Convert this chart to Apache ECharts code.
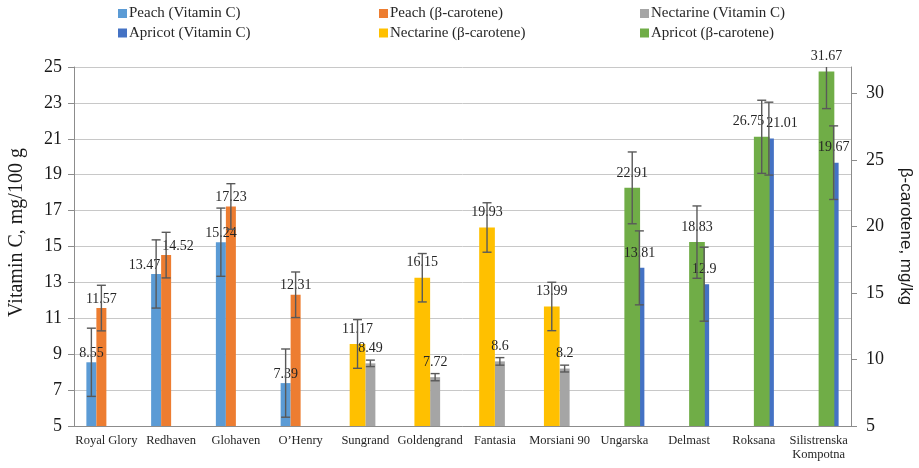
<!DOCTYPE html>
<html><head><meta charset="utf-8">
<script src="https://cdn.jsdelivr.net/npm/echarts@6/dist/echarts.min.js"></script>
<style>html,body{margin:0;padding:0;background:#fff}#c{width:919px;height:468px}</style>
</head><body><div id="c"></div>
<script>
const categories = ['Royal Glory','Redhaven','Glohaven','O\u2019Henry','Sungrand','Goldengrand','Fantasia','Morsiani 90','Ungarska','Delmast','Roksana','Silistrenska\nKompotna'];

const peachVitC        = [8.55, 13.47, 15.24, 7.39, null, null, null, null, null, null, null, null];
const peachVitCErr     = [1.9, 1.9, 1.9, 1.9, null, null, null, null, null, null, null, null];
const peachBeta        = [11.57, 14.52, 17.23, 12.31, null, null, null, null, null, null, null, null];
const peachBetaErr     = [1.27, 1.27, 1.27, 1.27, null, null, null, null, null, null, null, null];
const nectarineVitC    = [null, null, null, null, 8.49, 7.72, 8.6, 8.2, null, null, null, null];
const nectarineVitCErr = [null, null, null, null, 0.18, 0.2, 0.21, 0.19, null, null, null, null];
const apricotVitC      = [null, null, null, null, null, null, null, null, 13.81, 12.9, 21.01, 19.67];
const apricotVitCErr   = [null, null, null, null, null, null, null, null, 2.06, 2.06, 2.03, 2.05];
const nectarineBeta    = [null, null, null, null, 11.17, 16.15, 19.93, 13.99, null, null, null, null];
const nectarineBetaErr = [null, null, null, null, 1.83, 1.82, 1.86, 1.82, null, null, null, null];
const apricotBeta      = [null, null, null, null, null, null, null, null, 22.91, 18.83, 26.75, 31.67];
const apricotBetaErr   = [null, null, null, null, null, null, null, null, 2.7, 2.72, 2.75, 2.8];

const leftTicks  = [5, 7, 9, 11, 13, 15, 17, 19, 21, 23, 25];
const rightTicks = [5, 10, 15, 20, 25, 30];

const FONT = 'Liberation Serif';
const LABEL_SIZE = 14;
const W1 = 10, W2 = 15.7;
const defs = [
  {name:'Peach (Vitamin C)',      data:peachVitC,     err:peachVitCErr,     color:'#5B9BD5', y:0, g:0, slot:0, dist:2},
  {name:'Peach (\u03B2-carotene)', data:peachBeta,     err:peachBetaErr,     color:'#ED7D31', y:0, g:0, slot:1, dist:2},
  {name:'Nectarine (Vitamin C)',  data:nectarineVitC, err:nectarineVitCErr, color:'#A5A5A5', y:0, g:0, slot:2, dist:8},
  {name:'Apricot (Vitamin C)',    data:apricotVitC,   err:apricotVitCErr,   color:'#4472C4', y:0, g:0, slot:3, dist:8},
  {name:'Nectarine (\u03B2-carotene)', data:nectarineBeta, err:nectarineBetaErr, color:'#FFC000', y:1, g:1, slot:0, dist:8},
  {name:'Apricot (\u03B2-carotene)',   data:apricotBeta,   err:apricotBetaErr,   color:'#70AD47', y:1, g:1, slot:1, dist:8}
];
defs.forEach(d => {
  const W = d.g === 0 ? W1 : W2;
  const n = d.g === 0 ? 4 : 2;
  d.off = (d.slot - (n - 1) / 2) * W;
  d.W = W;
});

const mctx = document.createElement('canvas').getContext('2d');
mctx.font = LABEL_SIZE + 'px "' + FONT + '"';
let chart = null;

// shift labels of the two bars in a category apart when they collide
function labelShift(di, i) {
  if (!chart) return 0;
  try {
    const ks = [];
    defs.forEach((d, k) => { if (d.data[i] != null) ks.push(k); });
    if (ks.length !== 2) return 0;
    const pts = ks.map(k => {
      const d = defs[k];
      const p = chart.convertToPixel({xAxisIndex:d.g, yAxisIndex:d.y}, [i, d.data[i]]);
      return {k:k, x:p[0] + d.off, y:p[1] - d.dist, w:mctx.measureText(String(d.data[i])).width};
    });
    pts.sort((a, b) => a.x - b.x);
    if (Math.abs(pts[0].y - pts[1].y) >= 19.1) return 0;
    const need = (pts[0].w + pts[1].w) / 2 + 2 - (pts[1].x - pts[0].x);
    if (need <= 0) return 0;
    return pts[0].k === di ? -need / 2 : need / 2;
  } catch (e) { return 0; }
}

const series = [];
defs.forEach((d, di) => {
  series.push({
    type:'bar', name:d.name, xAxisIndex:d.g, yAxisIndex:d.y, data:d.data,
    barWidth:d.W, barGap:'0%', z:2,
    itemStyle:{color:d.color},
    label:{show:true, position:'top', distance:d.dist, fontFamily:FONT, fontSize:LABEL_SIZE, color:'#262626'},
    labelLayout:(p) => ({dx: labelShift(di, p.dataIndex)})
  });
  const ed = [];
  d.data.forEach((v, i) => { if (v != null) ed.push([i, v, d.err[i]]); });
  const off = d.off;
  series.push({
    type:'custom', xAxisIndex:d.g, yAxisIndex:d.y, z:3, silent:true, clip:true,
    encode:{x:0, y:1}, data:ed,
    renderItem:(params, api) => {
      const i = api.value(0), v = api.value(1), e = api.value(2);
      const t = api.coord([i, v + e]), b = api.coord([i, v - e]);
      const x = t[0] + off;
      const st = {stroke:'#595959', lineWidth:1.4};
      return {type:'group', children:[
        {type:'line', shape:{x1:x, y1:t[1], x2:x, y2:b[1]}, style:st},
        {type:'line', shape:{x1:x-4.5, y1:t[1], x2:x+4.5, y2:t[1]}, style:st},
        {type:'line', shape:{x1:x-4.5, y1:b[1], x2:x+4.5, y2:b[1]}, style:st}
      ]};
    }
  });
});

const legendBase = {orient:'vertical', top:5.5, padding:0, itemWidth:9, itemHeight:9, itemGap:3.5, icon:'rect',
  textStyle:{fontFamily:FONT, fontSize:15, color:'#262626', lineHeight:16, padding:[0,0,0,-3]}};
chart = echarts.init(document.getElementById('c'), null, {renderer:'canvas'});
const option = {
  animation:false,
  backgroundColor:'#fff',
  legend:[
    Object.assign({}, legendBase, {left:118, data:[defs[0].name, defs[3].name]}),
    Object.assign({}, legendBase, {left:379, data:[defs[1].name, defs[4].name]}),
    Object.assign({}, legendBase, {left:640, data:[defs[2].name, defs[5].name]})
  ],
  grid:{left:74, right:68, top:67, bottom:42, containLabel:false, outerBoundsMode:'none'},
  xAxis:[
    {type:'category', data:categories, axisTick:{show:false},
     axisLine:{lineStyle:{color:'#8c8c8c'}},
     axisLabel:{interval:0, fontFamily:FONT, fontSize:12.5, color:'#262626', margin:8, lineHeight:14}},
    {type:'category', data:categories, show:false}
  ],
  yAxis:[
    {type:'value', min:5, max:25, position:'left',
     name:'Vitamin C, mg/100 g', nameLocation:'middle', nameGap:47,
     nameTextStyle:{fontFamily:FONT, fontSize:20, color:'#1a1a1a', padding:[0,0,0,28]},
     axisLine:{show:true, lineStyle:{color:'#8c8c8c'}},
     axisTick:{show:true, length:6, customValues:leftTicks, lineStyle:{color:'#8c8c8c'}},
     axisLabel:{customValues:leftTicks, fontFamily:FONT, fontSize:18, color:'#1a1a1a', margin:12},
     splitLine:{show:true, lineStyle:{color:'#c8c8c8', width:1}}},
    {type:'value', min:5, max:32, position:'right',
     name:'\u03B2-carotene, mg/kg', nameLocation:'middle', nameGap:46, nameRotate:-90,
     nameTextStyle:{fontFamily:'Liberation Sans', fontSize:17, color:'#1a1a1a', padding:[0,20,0,0]},
     axisLine:{show:true, lineStyle:{color:'#8c8c8c'}},
     axisTick:{show:true, length:6, customValues:rightTicks, lineStyle:{color:'#8c8c8c'}},
     axisLabel:{customValues:rightTicks, fontFamily:FONT, fontSize:18, color:'#1a1a1a', margin:15},
     splitLine:{show:false}}
  ],
  series:series
};
chart.setOption(option);
chart.setOption(option, true);
</script></body></html>
